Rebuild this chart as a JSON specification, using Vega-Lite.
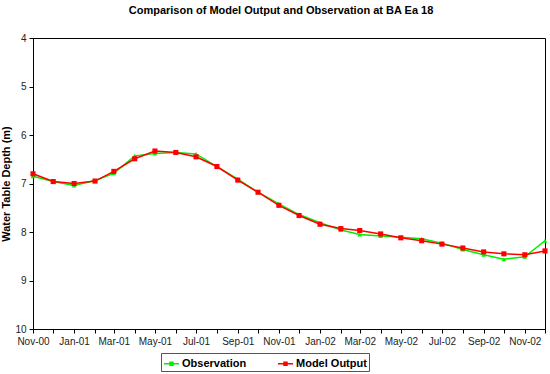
{
  "$schema": "https://vega.github.io/schema/vega-lite/v6.json",
  "width": 512,
  "height": 291,
  "autosize": {"type": "none"},
  "padding": {"left": 33, "top": 38, "right": 5, "bottom": 45},
  "background": "white",
  "title": {
    "text": "Comparison of Model Output and Observation at BA Ea 18",
    "font": "Liberation Sans",
    "fontSize": 11,
    "fontWeight": "bold",
    "color": "black",
    "anchor": "middle",
    "dx": -8,
    "offset": 17
  },
  "config": {
    "view": {"stroke": "black", "strokeWidth": 1},
    "font": "Liberation Sans"
  },
  "data": {
    "values": [
      {"date": "2000-11-01", "series": "Observation", "depth": 6.85},
      {"date": "2000-12-01", "series": "Observation", "depth": 6.96},
      {"date": "2001-01-01", "series": "Observation", "depth": 7.04},
      {"date": "2001-02-01", "series": "Observation", "depth": 6.94},
      {"date": "2001-03-01", "series": "Observation", "depth": 6.79},
      {"date": "2001-04-01", "series": "Observation", "depth": 6.43},
      {"date": "2001-05-01", "series": "Observation", "depth": 6.38},
      {"date": "2001-06-01", "series": "Observation", "depth": 6.36},
      {"date": "2001-07-01", "series": "Observation", "depth": 6.39},
      {"date": "2001-08-01", "series": "Observation", "depth": 6.65},
      {"date": "2001-09-01", "series": "Observation", "depth": 6.91},
      {"date": "2001-10-01", "series": "Observation", "depth": 7.18},
      {"date": "2001-11-01", "series": "Observation", "depth": 7.42},
      {"date": "2001-12-01", "series": "Observation", "depth": 7.64},
      {"date": "2002-01-01", "series": "Observation", "depth": 7.81},
      {"date": "2002-02-01", "series": "Observation", "depth": 7.96},
      {"date": "2002-03-01", "series": "Observation", "depth": 8.05},
      {"date": "2002-04-01", "series": "Observation", "depth": 8.08},
      {"date": "2002-05-01", "series": "Observation", "depth": 8.11},
      {"date": "2002-06-01", "series": "Observation", "depth": 8.14},
      {"date": "2002-07-01", "series": "Observation", "depth": 8.23},
      {"date": "2002-08-01", "series": "Observation", "depth": 8.36},
      {"date": "2002-09-01", "series": "Observation", "depth": 8.47},
      {"date": "2002-10-01", "series": "Observation", "depth": 8.56},
      {"date": "2002-11-01", "series": "Observation", "depth": 8.51},
      {"date": "2002-12-01", "series": "Observation", "depth": 8.18},
      {"date": "2000-11-01", "series": "Model Output", "depth": 6.80},
      {"date": "2000-12-01", "series": "Model Output", "depth": 6.96},
      {"date": "2001-01-01", "series": "Model Output", "depth": 7.00},
      {"date": "2001-02-01", "series": "Model Output", "depth": 6.95},
      {"date": "2001-03-01", "series": "Model Output", "depth": 6.75},
      {"date": "2001-04-01", "series": "Model Output", "depth": 6.49},
      {"date": "2001-05-01", "series": "Model Output", "depth": 6.33},
      {"date": "2001-06-01", "series": "Model Output", "depth": 6.36},
      {"date": "2001-07-01", "series": "Model Output", "depth": 6.45},
      {"date": "2001-08-01", "series": "Model Output", "depth": 6.65},
      {"date": "2001-09-01", "series": "Model Output", "depth": 6.93},
      {"date": "2001-10-01", "series": "Model Output", "depth": 7.18},
      {"date": "2001-11-01", "series": "Model Output", "depth": 7.45},
      {"date": "2001-12-01", "series": "Model Output", "depth": 7.66},
      {"date": "2002-01-01", "series": "Model Output", "depth": 7.84},
      {"date": "2002-02-01", "series": "Model Output", "depth": 7.93},
      {"date": "2002-03-01", "series": "Model Output", "depth": 7.97},
      {"date": "2002-04-01", "series": "Model Output", "depth": 8.04},
      {"date": "2002-05-01", "series": "Model Output", "depth": 8.12},
      {"date": "2002-06-01", "series": "Model Output", "depth": 8.18},
      {"date": "2002-07-01", "series": "Model Output", "depth": 8.25},
      {"date": "2002-08-01", "series": "Model Output", "depth": 8.33},
      {"date": "2002-09-01", "series": "Model Output", "depth": 8.41},
      {"date": "2002-10-01", "series": "Model Output", "depth": 8.45},
      {"date": "2002-11-01", "series": "Model Output", "depth": 8.47},
      {"date": "2002-12-01", "series": "Model Output", "depth": 8.39}
    ]
  },
  "encoding": {
    "x": {
      "field": "date",
      "type": "temporal",
      "scale": {
        "type": "utc",
        "domain": [
          {"year": 2000, "month": 11, "date": 1, "utc": true},
          {"year": 2002, "month": 12, "date": 1, "utc": true}
        ],
        "nice": false
      },
      "axis": {
        "title": null,
        "grid": false,
        "tickCount": {"interval": "month", "step": 1},
        "labelExpr": "utcmonth(datum.value) % 2 == 0 ? utcFormat(datum.value, '%b-%y') : ''",
        "labelOverlap": false,
        "labelFlush": false,
        "labelFont": "Liberation Sans",
        "labelFontSize": 10,
        "labelColor": "#222",
        "labelPadding": 3,
        "domainColor": "black",
        "tickColor": "black",
        "tickSize": 4
      }
    },
    "y": {
      "field": "depth",
      "type": "quantitative",
      "scale": {"domain": [4, 10], "reverse": true, "nice": false, "zero": false},
      "axis": {
        "title": "Water Table Depth (m)",
        "titleFont": "Liberation Sans",
        "titleFontSize": 11,
        "titleFontWeight": "bold",
        "titleColor": "black",
        "titlePadding": 3,
        "values": [4, 5, 6, 7, 8, 9, 10],
        "grid": false,
        "labelFont": "Liberation Sans",
        "labelFontSize": 10,
        "labelColor": "#222",
        "labelPadding": 3,
        "domainColor": "black",
        "tickColor": "black",
        "tickSize": 4
      }
    },
    "color": {
      "field": "series",
      "type": "nominal",
      "sort": ["Observation", "Model Output"],
      "scale": {"domain": ["Observation", "Model Output"], "range": ["#00ee00", "#ff0000"]},
      "legend": {
        "orient": "none",
        "legendX": 128,
        "legendY": 315,
        "direction": "horizontal",
        "columns": 2,
        "title": null,
        "strokeColor": "#555",
        "padding": 2,
        "fillColor": "white",
        "symbolType": "M-1,0H1M-0.2,-0.2H0.2V0.2H-0.2Z",
        "symbolSize": 225,
        "symbolStrokeWidth": 1.5,
        "labelFont": "Liberation Sans",
        "labelFontSize": 11,
        "labelFontWeight": "bold",
        "labelColor": "black",
        "labelOffset": 2,
        "columnPadding": 28
      }
    }
  },
  "layer": [
    {
      "mark": {"type": "line", "strokeWidth": 1.5},
      "encoding": {
        "order": {"field": "date", "type": "temporal"}
      }
    },
    {
      "mark": {"type": "point", "filled": true, "opacity": 1},
      "encoding": {
        "shape": {
          "condition": {"test": "datum.series === 'Observation'", "value": "triangle-up"},
          "value": "square"
        },
        "size": {
          "condition": {"test": "datum.series === 'Observation'", "value": 22},
          "value": 26
        }
      }
    }
  ]
}
